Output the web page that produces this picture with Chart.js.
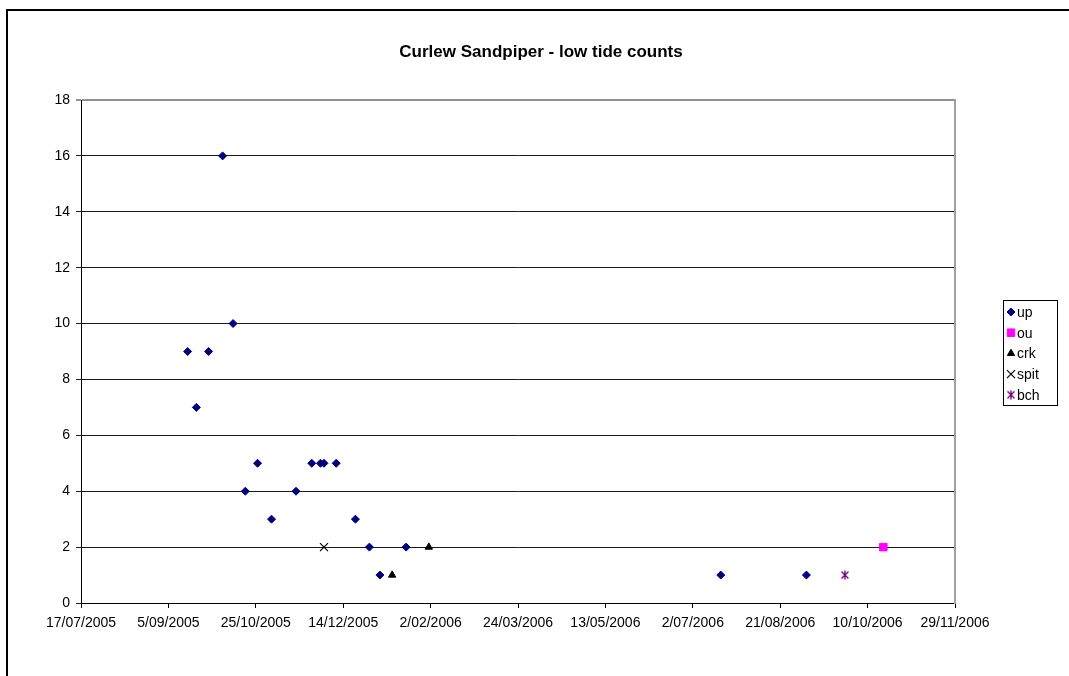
<!DOCTYPE html>
<html>
<head>
<meta charset="utf-8">
<script src="https://cdn.jsdelivr.net/npm/chart.js@4"></script>
<style>
  html, body { margin: 0; padding: 0; overflow: hidden; background: #fff; }
  #frame { position: absolute; left: 6px; top: 9px; width: 2000px; height: 2000px; border: 2px solid #000; }
  #chart { position: absolute; left: 0; top: 0; }
</style>
</head>
<body>
<div id="frame"></div>
<canvas id="chart" width="1082" height="676"></canvas>
<script>
// counts per site, dates as yyyy-mm-dd
const upDates = ['2005-09-16', '2005-09-21', '2005-09-28', '2005-10-06', '2005-10-12', '2005-10-19', '2005-10-26',
                 '2005-11-03', '2005-11-17', '2005-11-26', '2005-12-01', '2005-12-03', '2005-12-10', '2005-12-21',
                 '2005-12-29', '2006-01-04', '2006-01-19', '2006-07-18', '2006-09-05'];
const upCounts = [9, 7, 9, 16, 10, 4, 5, 3, 4, 5, 5, 5, 5, 3, 2, 1, 2, 1, 1];
const ouDates = ['2006-10-19'];
const ouCounts = [2];
const crkDates = ['2006-01-11', '2006-02-01'];
const crkCounts = [1, 2];
const spitDates = ['2005-12-03'];
const spitCounts = [2];
const bchDates = ['2006-09-27'];
const bchCounts = [1];

// axis range (Excel serial days): 17/07/2005 .. 29/11/2006, every 50 days
const xMin = 38550, xMax = 39050, xStep = 50;
const yMin = 0, yMax = 18, yStep = 2;

const EPOCH = Date.UTC(1899, 11, 30);
function serial(s) {
    const p = s.split('-').map(Number);
    return Math.round((Date.UTC(p[0], p[1] - 1, p[2]) - EPOCH) / 86400000);
}
function fmtDate(v) {
    const d = new Date(EPOCH + v * 86400000);
    const mm = String(d.getUTCMonth() + 1).padStart(2, '0');
    return d.getUTCDate() + '/' + mm + '/' + d.getUTCFullYear();
}
function pts(dates, counts) {
    return dates.map((d, i) => ({ x: serial(d), y: counts[i] }));
}

// excel "star" marker: an x with a vertical bar
function starMarker(color) {
    const c = document.createElement('canvas');
    c.width = 10; c.height = 10;
    const g = c.getContext('2d');
    g.strokeStyle = color;
    g.lineWidth = 1.4;
    g.beginPath();
    g.moveTo(1.5, 1.5); g.lineTo(8.5, 8.5);
    g.moveTo(8.5, 1.5); g.lineTo(1.5, 8.5);
    g.moveTo(5, 0.5); g.lineTo(5, 9.5);
    g.stroke();
    return c;
}

const font = "'Liberation Sans', Arial, sans-serif";

// legend drawn in the right margin, with a box round it
const boxLegend = {
    id: 'boxLegend',
    afterDraw(chart) {
        const ctx = chart.ctx;
        const area = chart.chartArea;
        const left = area.right + 48, top = area.top + 200, w = 54, h = 105;
        ctx.save();
        ctx.strokeStyle = '#000';
        ctx.lineWidth = 1;
        ctx.strokeRect(left + 0.5, top + 0.5, w, h);
        ctx.font = '14px ' + font;
        ctx.textBaseline = 'middle';
        ctx.textAlign = 'left';
        chart.data.datasets.forEach((ds, i) => {
            const y = top + 12 + i * 20.7;
            const x = left + 8;
            ctx.fillStyle = ds.backgroundColor;
            ctx.strokeStyle = ds.borderColor;
            ctx.lineWidth = ds.borderWidth;
            Chart.helpers.drawPoint(ctx, {
                pointStyle: ds.pointStyle, radius: ds.pointRadius,
                rotation: 0, borderWidth: ds.borderWidth
            }, x, y);
            ctx.fillStyle = '#000';
            ctx.fillText(ds.label, x + 6, y + 1);
        });
        ctx.restore();
    }
};

new Chart(document.getElementById('chart'), {
    type: 'scatter',
    data: {
        datasets: [
            { label: 'up', data: pts(upDates, upCounts), pointStyle: 'rectRot', pointRadius: 4,
              backgroundColor: '#000080', borderColor: '#000080', borderWidth: 1 },
            { label: 'ou', data: pts(ouDates, ouCounts), pointStyle: 'rect', pointRadius: 5.3,
              backgroundColor: '#FF00FF', borderColor: '#FF00FF', borderWidth: 1 },
            { label: 'crk', data: pts(crkDates, crkCounts), pointStyle: 'triangle', pointRadius: 4.2,
              backgroundColor: '#000000', borderColor: '#000000', borderWidth: 1 },
            { label: 'spit', data: pts(spitDates, spitCounts), pointStyle: 'crossRot', pointRadius: 5.7,
              backgroundColor: '#000000', borderColor: '#000000', borderWidth: 1.2 },
            { label: 'bch', data: pts(bchDates, bchCounts), pointStyle: starMarker('#800080'), pointRadius: 5,
              backgroundColor: '#800080', borderColor: '#800080', borderWidth: 1 }
        ]
    },
    options: {
        responsive: false,
        animation: false,
        events: [],
        layout: { padding: 0 },
        plugins: {
            legend: { display: false },
            tooltip: { enabled: false },
            title: {
                display: true,
                text: 'Curlew Sandpiper - low tide counts',
                color: '#000',
                font: { family: font, size: 17, weight: 'bold' },
                padding: { top: 42, bottom: 37.6 }
            }
        },
        scales: {
            x: {
                type: 'linear',
                position: 'bottom',
                min: xMin, max: xMax,
                afterFit: s => { s.height = 73; },
                ticks: {
                    stepSize: xStep, autoSkip: false, maxRotation: 0, padding: 7,
                    color: '#000', font: { family: font, size: 14 },
                    callback: v => fmtDate(v)
                },
                grid: { drawOnChartArea: false, tickLength: 5, color: '#000' },
                border: { color: '#000', width: 1 }
            },
            y: {
                position: 'left',
                min: yMin, max: yMax,
                afterFit: s => { s.width = 81; },
                ticks: { stepSize: yStep, padding: 6, color: '#000', font: { family: font, size: 14 } },
                grid: {
                    tickLength: 5,
                    color: c => c.tick && c.tick.value === yMax ? '#909090' : '#1a1a1a',
                    lineWidth: c => c.tick && c.tick.value === yMax ? 2 : 1
                },
                border: { color: '#000', width: 1 }
            },
            yRight: {
                position: 'right',
                min: yMin, max: yMax,
                afterFit: s => { s.width = 127; },
                ticks: { display: false },
                grid: { display: false },
                border: { color: '#a0a0a0', width: 2 }
            }
        }
    },
    plugins: [boxLegend]
});
</script>
</body>
</html>
